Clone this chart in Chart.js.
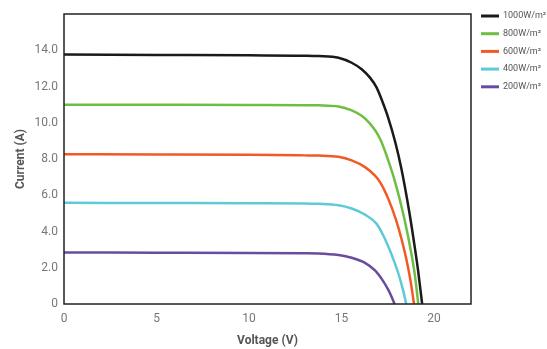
<!DOCTYPE html>
<html><head><meta charset="utf-8">
<script src="https://cdn.jsdelivr.net/npm/chart.js@4"></script>
<style>html,body{margin:0;padding:0;background:#fff}#w{width:547px;height:349px}</style>
</head><body><div id="w"><canvas id="c"></canvas></div>
<script>
const seriesLabels = ['1000W/m²','800W/m²','600W/m²','400W/m²','200W/m²'];
const seriesColors = ['#1a1a1a','#6fbe44','#f15a24','#5ecad6','#6a4c9e'];
const v1000 = [0, 5, 10, 13, 13.76, 14.84, 15.55, 16.09, 16.54, 16.9, 17.2, 17.5, 17.9, 18.23, 18.66, 18.98, 19.14, 19.36];
const i1000 = [13.76, 13.74, 13.72, 13.7, 13.68, 13.59, 13.31, 12.95, 12.49, 11.94, 11.2, 10.35, 8.95, 7.5, 5.1, 3.0, 1.85, 0];
const v800 = [0, 5, 10, 13, 13.76, 14.84, 15.55, 16.09, 16.54, 16.9, 17.15, 17.5, 17.85, 18.39, 18.8, 18.98, 19.15];
const i800 = [11.0, 10.99, 10.98, 10.97, 10.96, 10.9, 10.68, 10.38, 9.95, 9.45, 8.96, 8.0, 6.9, 4.75, 2.65, 1.5, 0];
const v600 = [0, 5, 10, 13, 13.76, 14.84, 15.55, 16.27, 16.81, 17.1, 17.53, 17.96, 18.24, 18.5, 18.72, 18.92];
const i600 = [8.26, 8.25, 8.23, 8.2, 8.19, 8.12, 7.92, 7.55, 7.08, 6.7, 5.8, 4.6, 3.6, 2.5, 1.35, 0];
const v400 = [0, 5, 10, 13, 13.76, 14.84, 15.55, 16.27, 16.9, 17.26, 17.62, 17.9, 18.1, 18.33, 18.5];
const i400 = [5.58, 5.57, 5.56, 5.55, 5.53, 5.45, 5.27, 4.93, 4.42, 3.78, 2.95, 2.2, 1.6, 0.75, 0];
const v200 = [0, 5, 10, 13, 13.76, 14.84, 15.55, 16.27, 16.81, 17.26, 17.53, 17.7, 17.87];
const i200 = [2.84, 2.83, 2.82, 2.8, 2.79, 2.7, 2.55, 2.27, 1.85, 1.25, 0.78, 0.42, 0];
const xTicks = [0, 5, 10, 15, 20];
const yTicks = [0, 2, 4, 6, 8, 10, 12, 14];

const vs=[v1000,v800,v600,v400,v200], is=[i1000,i800,i600,i400,i200];
const datasets = seriesLabels.map((l,k)=>({
  label:l, data: vs[k].map((x,j)=>({x:x,y:is[k][j]})),
  borderColor: seriesColors[k], backgroundColor: seriesColors[k],
  borderWidth: 2.5, pointRadius: 0, cubicInterpolationMode:'monotone', fill:false
}));
const FONT = "Roboto, 'Liberation Sans', sans-serif";
const frame = {id:'frame', afterDatasetsDraw(ch){const a=ch.chartArea,c=ch.ctx;c.save();c.strokeStyle='#222';c.lineWidth=1.5;c.strokeRect(a.left,a.top,a.right-a.left,a.bottom-a.top);c.restore();}};
const legendPlugin = {id:'sideLegend', afterDraw(ch){const c=ch.ctx;c.save();
  ch.data.datasets.forEach((d,k)=>{const y=16+k*17.7;
    c.strokeStyle=d.borderColor;c.lineWidth=3;c.beginPath();c.moveTo(481,y);c.lineTo(499,y);c.stroke();
    c.fillStyle='#555';c.font="9px "+FONT;c.textBaseline='middle';c.fillText(d.label,503,y);});
  c.restore();}};
new Chart(document.getElementById('c'),{
  type:'line', data:{datasets},
  plugins:[frame, legendPlugin],
  options:{responsive:true, maintainAspectRatio:false, animation:false,
    layout:{padding:{left:10,top:14,right:76,bottom:0}},
    plugins:{legend:{display:false}, tooltip:{enabled:false}},
    scales:{
      x:{type:'linear', min:0, max:22, grid:{display:false, drawTicks:false}, border:{display:false},
        afterBuildTicks(s){s.ticks=xTicks.map(v=>({value:v}));},
        afterFit(s){s.height=45;},
        ticks:{color:'#777', padding:8, font:{family:FONT,size:12}},
        title:{display:true,text:'Voltage (V)',color:'#555',font:{family:FONT,size:12,weight:'bold'},padding:{top:4,bottom:1}}},
      y:{min:0, max:16, grid:{display:false, drawTicks:false}, border:{display:false},
        afterBuildTicks(s){s.ticks=yTicks.map(v=>({value:v}));},
        afterFit(s){s.width=54;},
        ticks:{color:'#777', padding:6, font:{family:FONT,size:12}, callback:v=>v===0?'0':v.toFixed(1)},
        title:{display:true,text:'Current (A)',color:'#555',font:{family:FONT,size:12,weight:'bold'}}}
    }}
});
</script></body></html>
